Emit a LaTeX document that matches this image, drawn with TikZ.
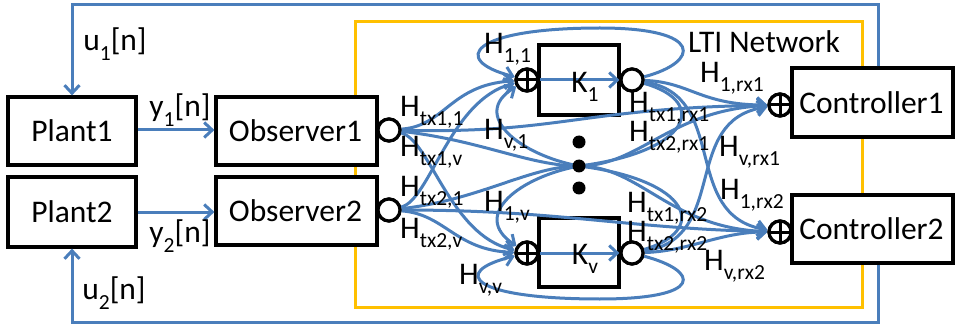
\documentclass[tikz,border=0pt]{standalone}
\usepackage{fontspec}
\setmainfont{Carlito}
\usetikzlibrary{arrows.meta,calc}
\definecolor{lblue}{HTML}{4A7EBB}
\definecolor{lyel}{HTML}{FFC000}
\newcommand{\hs}[2]{#1\raisebox{-0.3em}{\fontsize{21.5}{21.5}\selectfont #2}}
\tikzset{
  blk/.style={draw=black,line width=3.2pt,fill=white,inner sep=0pt},
  sumc/.style={circle,draw=black,line width=3.2pt,fill=white,minimum size=22pt,inner sep=0pt,
     path picture={\draw[line width=3pt] (path picture bounding box.north) -- (path picture bounding box.south)
        (path picture bounding box.west) -- (path picture bounding box.east);}},
  outc/.style={circle,draw=black,line width=3.2pt,fill=white,minimum size=22pt,inner sep=0pt},
  wire/.style={draw=lblue,line width=3pt},
  arr/.style={wire,-{Straight Barb[length=8pt,width=15pt]}},
  lbl/.style={inner sep=0pt,font=\fontsize{31.5}{36}\selectfont},
  hl/.style={lbl,anchor=west},
  dotn/.style={circle,fill=black,minimum size=13pt,inner sep=0pt}
}
\begin{document}
\begin{tikzpicture}[x=1pt,y=-1pt]
\useasboundingbox (0,0) rectangle (959,326);
% LTI network frame
\draw[draw=lyel,line width=3pt] (355,22) rectangle (862,307);
\node[lbl] (lti) at (764,42) {LTI Network};
% boxes
\node[blk,minimum width=128pt,minimum height=68pt] (plant1) at (72,131) {};
\node[lbl] at (plant1) {Plant1};
\node[blk,minimum width=128pt,minimum height=70pt] (plant2) at (72,212) {};
\node[lbl] at (plant2) {Plant2};
\node[blk,minimum width=161pt,minimum height=68pt] (obs1) at (296.5,131) {};
\node[lbl] at ([xshift=-1pt]obs1) {Observer1};
\node[blk,minimum width=161pt,minimum height=68pt] (obs2) at (296.5,211) {};
\node[lbl] at ([xshift=-1pt]obs2) {Observer2};
\node[blk,minimum width=80pt,minimum height=70pt] (k1) at (579,80) {};
\node[blk,minimum width=80pt,minimum height=69pt] (kv) at (579,252.5) {};
\node[blk,minimum width=161pt,minimum height=69pt] (c1) at (872.5,102.5) {};
\node[lbl] at ([xshift=-1pt]c1) {Controller1};
\node[blk,minimum width=161pt,minimum height=68pt] (c2) at (872.5,229) {};
\node[lbl] at ([xshift=-1pt]c2) {Controller2};
% circles (positions)
\node[outc] (o1) at (389,130) {};
\node[outc] (o2) at (389,210) {};
\node[sumc] (s1) at (527,80) {};
\node[sumc] (sv) at (527,253) {};
\node[outc] (ko1) at (632,80) {};
\node[outc] (kov) at (632,253) {};
\node[sumc] (cs1) at (780,105) {};
\node[sumc] (cs2) at (780,232) {};
\coordinate (mid) at (579,166);
% feedback
\coordinate (c1top) at ([xshift=5.5pt]c1.north);
\coordinate (c2bot) at ([xshift=5.5pt]c2.south);
\coordinate (tl) at (72,5);
\coordinate (bl) at (72,322);
\draw[arr] (c1top) |- (tl) -- (plant1.north);
\draw[arr] (c2bot) |- (bl) -- (plant2.south);
\draw[arr] (plant1.east |- 0,130) -- (obs1.west |- 0,130);
\draw[arr] (plant2.east |- 0,212) -- (obs2.west |- 0,212);
\node[lbl] at (180,110) {\hs{y}{1}[n]};
\node[lbl] at (180,236) {\hs{y}{2}[n]};
\node[lbl] at (115,44) {\hs{u}{1}[n]};
\node[lbl] at (114,293) {\hs{u}{2}[n]};
% K paths
\draw[arr] (s1) -- (ko1);
\draw[arr] (sv) -- (kov);
\node[lbl] at (585,87) {\hs{K}{1}};
\node[lbl] at (585,259) {\hs{K}{v}};
% network curves: to S1
\draw[arr] (o1) .. controls (445,126) and (450,85) .. (s1);
\draw[arr] (o2) .. controls (430,200) and (450,100) .. (s1);
\draw[arr] (ko1) .. controls (700,62) and (705,28) .. (600,28) .. controls (470,28) and (450,60) .. (s1);
\draw[arr] (kov) .. controls (710,230) and (690,180) .. (mid) .. controls (520,155) and (470,115) .. (s1);
% to Sv
\draw[arr] (o1) .. controls (430,140) and (450,235) .. (sv);
\draw[arr] (o2) .. controls (445,214) and (455,250) .. (sv);
\draw[arr] (kov) .. controls (700,271) and (705,299) .. (600,299) .. controls (470,299) and (450,272) .. (sv);
\draw[arr] (ko1) .. controls (710,102) and (690,152) .. (mid) .. controls (520,177) and (470,215) .. (sv);
% to C1
\draw[arr] (ko1) .. controls (690,82) and (700,105) .. (cs1);
\draw[arr] (o1) .. controls (560,134) and (580,108) .. (cs1);
\draw[arr] (o2) .. controls (480,200) and (530,166) .. (mid) .. controls (640,166) and (670,110) .. (cs1);
\draw[arr] (kov) .. controls (730,238) and (680,120) .. (cs1);
% to C2
\draw[arr] (ko1) .. controls (730,95) and (680,215) .. (cs2);
\draw[arr] (o1) .. controls (480,140) and (530,166) .. (mid) .. controls (640,166) and (670,228) .. (cs2);
\draw[arr] (o2) .. controls (560,210) and (620,228) .. (cs2);
\draw[arr] (kov) .. controls (690,251) and (720,232) .. (cs2);
% redraw circles on top
\node[outc] at (o1) {};
\node[outc] at (o2) {};
\node[sumc] at (s1) {};
\node[sumc] at (sv) {};
\node[outc] at (ko1) {};
\node[outc] at (kov) {};
\node[sumc] at (cs1) {};
\node[sumc] at (cs2) {};
% dots
\node[dotn] (d1) at (579,142) {};
\node[dotn] (d2) at (579,166) {};
\node[dotn] (d3) at (579,188) {};
% H labels
\node[hl] at (484,49) {\hs{H}{1,1}};
\node[hl] at (400,112) {\hs{H}{tx1,1}};
\node[hl] at (400,152) {\hs{H}{tx1,v}};
\node[hl] at (484,135) {\hs{H}{v,1}};
\node[hl] at (400,192) {\hs{H}{tx2,1}};
\node[hl] at (400,234) {\hs{H}{tx2,v}};
\node[hl] at (484,207) {\hs{H}{1,v}};
\node[hl] at (459,280) {\hs{H}{v,v}};
\node[hl] at (700,78) {\hs{H}{1,rx1}};
\node[hl] at (629,108) {\hs{H}{tx1,rx1}};
\node[hl] at (629,137) {\hs{H}{tx2,rx1}};
\node[hl] at (719,152) {\hs{H}{v,rx1}};
\node[hl] at (720,195) {\hs{H}{1,rx2}};
\node[hl] at (627,208) {\hs{H}{tx1,rx2}};
\node[hl] at (627,237) {\hs{H}{tx2,rx2}};
\node[hl] at (704,266) {\hs{H}{v,rx2}};
\end{tikzpicture}
\end{document}
